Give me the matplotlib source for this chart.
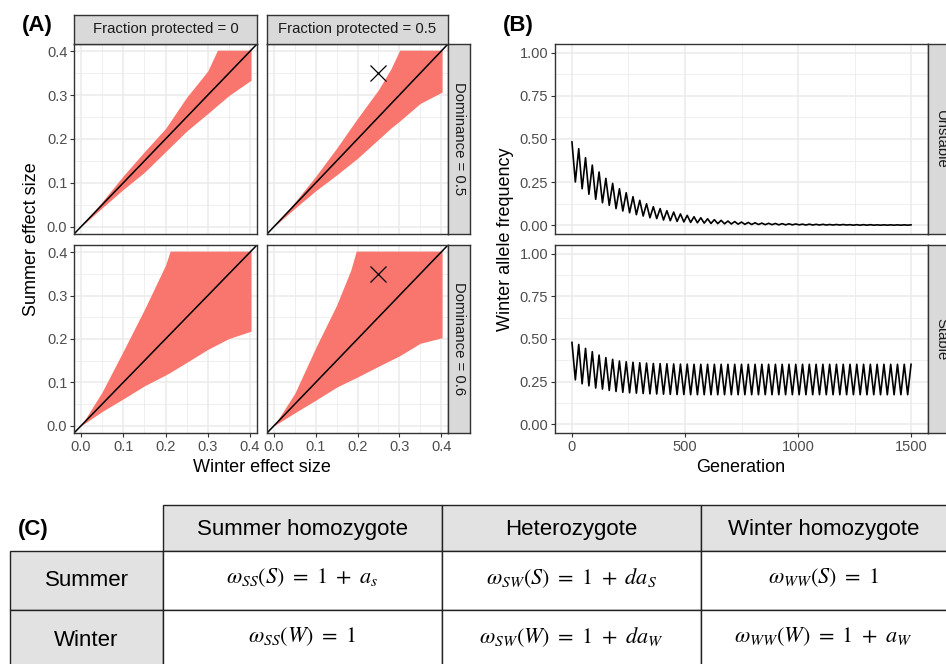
import matplotlib.pyplot as plt
from matplotlib.patches import Rectangle

plt.rcParams['font.family'] = ['Liberation Sans', 'DejaVu Sans']
plt.rcParams['mathtext.fontset'] = 'stix'

# ---- panel A data: region of protected polymorphism
# frac 0, dominance 0.5
a1_x  = [0, 0.05, 0.1, 0.15, 0.2, 0.25, 0.3, 0.323, 0.35, 0.4025]
a1_up = [0, 0.057, 0.116, 0.171, 0.224, 0.295, 0.355, 0.4025, 0.4025, 0.4025]
a1_lo = [0, 0.043, 0.085, 0.124, 0.171, 0.218, 0.258, 0.277, 0.299, 0.334]
# frac 0.5, dominance 0.5
a2_x  = [0, 0.05, 0.1, 0.15, 0.2, 0.25, 0.28, 0.301, 0.35, 0.4025]
a2_up = [0, 0.056, 0.115, 0.179, 0.247, 0.312, 0.36, 0.4025, 0.4025, 0.4025]
a2_lo = [0, 0.042, 0.082, 0.118, 0.156, 0.199, 0.225, 0.241, 0.281, 0.307]
# frac 0, dominance 0.6
a3_x  = [0, 0.05, 0.1, 0.15, 0.2, 0.211, 0.25, 0.3, 0.35, 0.4025]
a3_up = [0, 0.078, 0.172, 0.268, 0.37, 0.4025, 0.4025, 0.4025, 0.4025, 0.4025]
a3_lo = [0, 0.033, 0.062, 0.092, 0.117, 0.123, 0.146, 0.176, 0.201, 0.218]
# frac 0.5, dominance 0.6
a4_x  = [0, 0.05, 0.1, 0.15, 0.184, 0.197, 0.25, 0.3, 0.35, 0.4025]
a4_up = [0, 0.075, 0.18, 0.278, 0.359, 0.4025, 0.4025, 0.4025, 0.4025, 0.4025]
a4_lo = [0, 0.03, 0.059, 0.089, 0.105, 0.111, 0.137, 0.161, 0.19, 0.203]

example_point = (0.25, 0.35)
frac_labels = ['Fraction protected = 0', 'Fraction protected = 0.5']
dom_labels = ['Dominance = 0.5', 'Dominance = 0.6']

# ---- panel B data: peaks every 30 generations, troughs in between
gen_step = 15
unstable_peaks = [0.483, 0.444, 0.392, 0.349, 0.309, 0.272, 0.243, 0.212, 0.189, 0.166,
                  0.145, 0.125, 0.108, 0.097, 0.085, 0.077, 0.066, 0.058, 0.050, 0.044,
                  0.038, 0.033, 0.029, 0.025, 0.022, 0.019, 0.017, 0.015, 0.013, 0.012,
                  0.011, 0.010, 0.009, 0.008, 0.007, 0.007, 0.006, 0.006, 0.005, 0.005,
                  0.005, 0.004, 0.004, 0.004, 0.004, 0.003, 0.003, 0.003, 0.003, 0.003,
                  0.003]
unstable_troughs = [0.251, 0.212, 0.180, 0.151, 0.131, 0.116, 0.097, 0.083, 0.073, 0.062,
                    0.054, 0.044, 0.039, 0.031, 0.027, 0.023, 0.020, 0.017, 0.015, 0.013,
                    0.011, 0.010, 0.009, 0.008, 0.007, 0.006, 0.005, 0.005, 0.004, 0.004,
                    0.003, 0.003, 0.003, 0.003, 0.002, 0.002, 0.002, 0.002, 0.002, 0.002,
                    0.002, 0.001, 0.001, 0.001, 0.001, 0.001, 0.001, 0.001, 0.001, 0.001]
stable_peaks = [0.480, 0.468, 0.445, 0.426, 0.406, 0.391, 0.381, 0.371, 0.367, 0.364,
                0.361, 0.359, 0.357, 0.356, 0.355, 0.354, 0.353, 0.353, 0.352, 0.352,
                0.352, 0.352, 0.352, 0.352, 0.352, 0.352, 0.352, 0.352, 0.352, 0.352,
                0.352, 0.352, 0.352, 0.352, 0.352, 0.352, 0.352, 0.352, 0.352, 0.352,
                0.352, 0.352, 0.352, 0.352, 0.352, 0.352, 0.352, 0.352, 0.352, 0.352,
                0.352]
stable_troughs = [0.261, 0.238, 0.226, 0.213, 0.207, 0.199, 0.193, 0.188, 0.185, 0.183,
                  0.181, 0.179, 0.178, 0.177, 0.176, 0.175, 0.175, 0.174, 0.174, 0.174,
                  0.174, 0.174, 0.174, 0.174, 0.174, 0.174, 0.174, 0.174, 0.174, 0.174,
                  0.174, 0.174, 0.174, 0.174, 0.174, 0.174, 0.174, 0.174, 0.174, 0.174,
                  0.174, 0.174, 0.174, 0.174, 0.174, 0.174, 0.174, 0.174, 0.174, 0.174]
stab_labels = ['Unstable', 'Stable']

# ---- panel C data
col_heads = ['Summer homozygote', 'Heterozygote', 'Winter homozygote']
row_heads = ['Summer', 'Winter']
fitness = [[r'$\omega_{SS}(S)\ =\ 1\ +\ a_s$', r'$\omega_{SW}(S)\ =\ 1\ +\ da_S$', r'$\omega_{WW}(S)\ =\ 1$'],
           [r'$\omega_{SS}(W)\ =\ 1$', r'$\omega_{SW}(W)\ =\ 1\ +\ da_W$', r'$\omega_{WW}(W)\ =\ 1\ +\ a_W$']]


def zigzag(peaks, troughs):
    vals = []
    for i, p in enumerate(peaks):
        vals.append(p)
        if i < len(troughs):
            vals.append(troughs[i])
    gens = [i * gen_step for i in range(len(vals))]
    return gens, vals


W, H = 946, 664
fig = plt.figure(figsize=(9.46, 6.64), dpi=100)

GRID = '#EBEBEB'
DARK = '#333333'
STRIP = '#D9D9D9'
RED = '#F8766D'


def box(x0, y0, x1, y1):
    return fig.add_axes([x0 / W, 1 - y1 / H, (x1 - x0) / W, (y1 - y0) / H])


def style(ax, lim_x, lim_y, maj_x, min_x, maj_y, min_y):
    ax.set_xlim(lim_x)
    ax.set_ylim(lim_y)
    ax.set_xticks(maj_x)
    ax.set_xticks(min_x, minor=True)
    ax.set_yticks(maj_y)
    ax.set_yticks(min_y, minor=True)
    ax.grid(which='major', color=GRID, lw=1.1)
    ax.grid(which='minor', color=GRID, lw=0.55)
    ax.set_axisbelow(True)
    for s in ax.spines.values():
        s.set_color(DARK)
        s.set_linewidth(1.0)
    ax.tick_params(which='minor', length=0)
    ax.tick_params(which='major', length=2.8, width=0.8, color=DARK,
                   labelsize=10.5, labelcolor='#4D4D4D', pad=2)


def strip(x0, y0, x1, y1, label, rot=0):
    s = box(x0, y0, x1, y1)
    s.set_facecolor(STRIP)
    s.set_xticks([])
    s.set_yticks([])
    for sp in s.spines.values():
        sp.set_color(DARK)
        sp.set_linewidth(1.0)
    s.text(0.5, 0.5, label, rotation=rot, ha='center', va='center',
           fontsize=10.7, color='#1A1A1A', transform=s.transAxes)
    return s


# ---------------- panel A
cols = [(74, 257), (267, 448)]
rows = [(44, 234), (245, 433)]
regions = [[(a1_x, a1_up, a1_lo), (a2_x, a2_up, a2_lo)],
           [(a3_x, a3_up, a3_lo), (a4_x, a4_up, a4_lo)]]
ticks_a = [0, 0.1, 0.2, 0.3, 0.4]
minor_a = [0.05, 0.15, 0.25, 0.35]
for r, (y0, y1) in enumerate(rows):
    for c, (x0, x1) in enumerate(cols):
        ax = box(x0, y0, x1, y1)
        style(ax, (-0.0166, 0.4166), (-0.0166, 0.4166), ticks_a, minor_a, ticks_a, minor_a)
        ax.set_xticklabels(['%.1f' % t for t in ticks_a])
        ax.set_yticklabels(['%.1f' % t for t in ticks_a])
        xs, up, lo = regions[r][c]
        ax.fill_between(xs, lo, up, color=RED, lw=0)
        ax.axline((0, 0), slope=1, color='black', lw=1.1)
        if c == 1:
            ax.plot(*example_point, marker='x', color='black', ms=11, mew=0.9)
            ax.tick_params(left=False, labelleft=False)
        if r == 0:
            ax.tick_params(bottom=False, labelbottom=False)
    strip(448, y0, 470, y1, dom_labels[r], rot=-90)
for c, (x0, x1) in enumerate(cols):
    strip(x0, 15, x1, 44, frac_labels[c])

fig.text(31 / W, 1 - 239 / H, 'Summer effect size', rotation=90, ha='center', va='center', fontsize=13)
fig.text(262 / W, 1 - 467 / H, 'Winter effect size', ha='center', va='center', fontsize=13)
fig.text(22 / W, 1 - 26 / H, '(A)', ha='left', va='center', fontsize=16, fontweight='bold')

# ---------------- panel B
series = [zigzag(unstable_peaks, unstable_troughs), zigzag(stable_peaks, stable_troughs)]
ticks_b = [0, 0.25, 0.5, 0.75, 1.0]
for r, (y0, y1) in enumerate(rows):
    ax = box(555, y0, 928, y1)
    style(ax, (-75, 1575), (-0.05, 1.05), [0, 500, 1000, 1500], [250, 750, 1250],
          ticks_b, [0.125, 0.375, 0.625, 0.875])
    ax.set_yticklabels(['%.2f' % t for t in ticks_b])
    gens, vals = series[r]
    ax.plot(gens, vals, color='black', lw=1.2)
    if r == 0:
        ax.tick_params(bottom=False, labelbottom=False)
    strip(928, y0, 954, y1, stab_labels[r], rot=-90)

fig.text(505 / W, 1 - 239 / H, 'Winter allele frequency', rotation=90, ha='center', va='center', fontsize=13)
fig.text(741 / W, 1 - 467 / H, 'Generation', ha='center', va='center', fontsize=13)
fig.text(503 / W, 1 - 26 / H, '(B)', ha='left', va='center', fontsize=16, fontweight='bold')

# ---------------- panel C (table)
tab = fig.add_axes([0, 0, 1, 1], zorder=-1)
tab.set_xlim(0, W)
tab.set_ylim(H, 0)
tab.axis('off')
col_x = [163, 442, 701, 960]
row_y = [505, 551, 610, 680]
head_fill = '#E2E2E2'
for j in range(3):
    tab.add_patch(Rectangle((col_x[j], row_y[0]), col_x[j + 1] - col_x[j], row_y[1] - row_y[0],
                            facecolor=head_fill, edgecolor='#222222', lw=1.0))
    tab.text((col_x[j] + min(col_x[j + 1], W)) / 2, (row_y[0] + row_y[1]) / 2 + 1, col_heads[j],
             ha='center', va='center', fontsize=16)
for i in range(2):
    tab.add_patch(Rectangle((10, row_y[i + 1]), col_x[0] - 10, row_y[i + 2] - row_y[i + 1],
                            facecolor=head_fill, edgecolor='#222222', lw=1.0))
    tab.text((10 + col_x[0]) / 2, row_y[i + 1] + 30, row_heads[i],
             ha='center', va='center', fontsize=16)
    for j in range(3):
        tab.add_patch(Rectangle((col_x[j], row_y[i + 1]), col_x[j + 1] - col_x[j],
                                row_y[i + 2] - row_y[i + 1],
                                facecolor='white', edgecolor='#222222', lw=1.0))
        tab.text((col_x[j] + min(col_x[j + 1], W)) / 2, row_y[i + 1] + 27, fitness[i][j],
                 ha='center', va='center', fontsize=16)
tab.text(18, 529, '(C)', ha='left', va='center', fontsize=16, fontweight='bold')

fig.savefig('out.png', dpi=100)
